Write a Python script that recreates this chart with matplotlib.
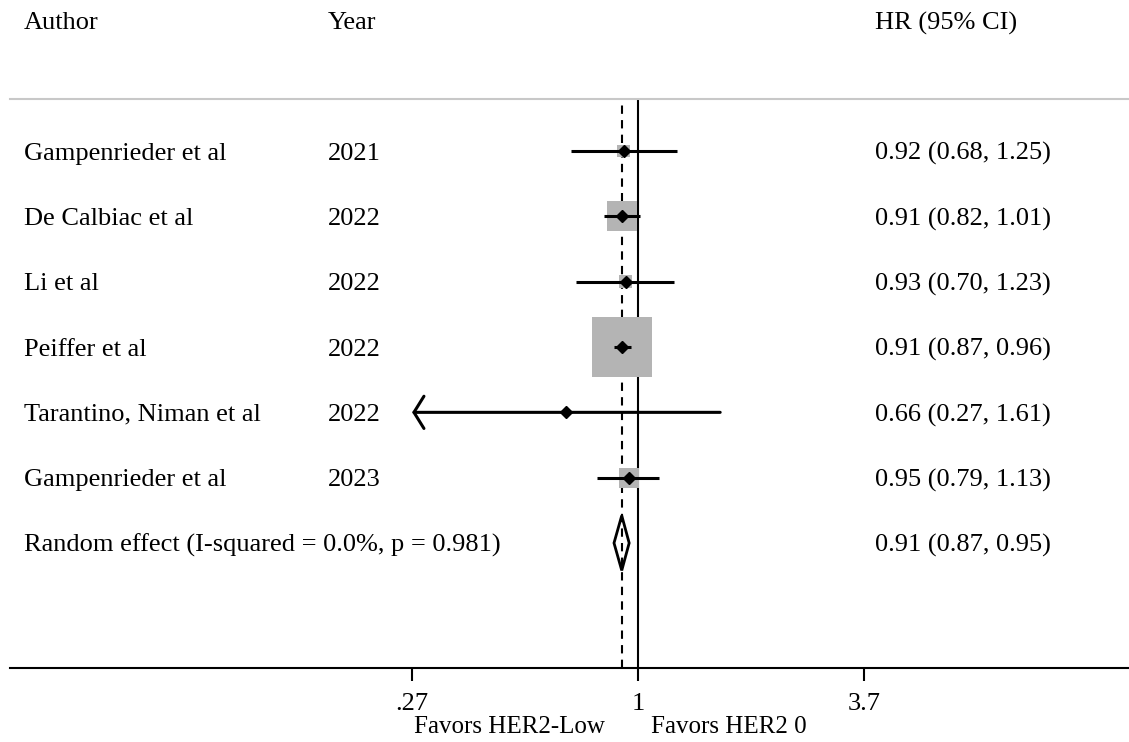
import matplotlib.pyplot as plt
import matplotlib.transforms as mtransforms
import numpy as np

plt.rcParams['font.family'] = ['Liberation Serif', 'DejaVu Serif']

# data
authors = ["Gampenrieder et al", "De Calbiac et al", "Li et al", "Peiffer et al",
           "Tarantino, Niman et al", "Gampenrieder et al"]
years = ["2021", "2022", "2022", "2022", "2022", "2023"]
hr = [0.92, 0.91, 0.93, 0.91, 0.66, 0.95]
lower = [0.68, 0.82, 0.70, 0.87, 0.27, 0.79]
upper = [1.25, 1.01, 1.23, 0.96, 1.61, 1.13]
weights = [3.0, 17.0, 3.5, 68.5, 0.3, 7.5]  # estimated % weight (box size)
pooled = [0.91, 0.87, 0.95]
pooled_label = "Random effect (I-squared = 0.0%, p = 0.981)"
xticks = [0.27, 1, 3.7]
xtick_labels = [".27", "1", "3.7"]

fs = 19
rows = np.arange(1, len(authors) + 1)
pooled_row = len(authors) + 1

fig = plt.figure(figsize=(11.29, 7.42), dpi=100)
ax = fig.add_axes([10 / 1129, 74 / 742, 1119 / 1129, 569 / 742])
ax.set_xscale('log')
ax.set_xlim(0.02624, 17.22)
ax.set_ylim(8.913, 0.204)

# reference lines
ax.axvline(1, color='black', lw=1.5, zorder=1)
ax.axvline(pooled[0], color='black', lw=1.5, ls=(0, (4, 3)), zorder=1)

# weight boxes
ax.scatter(hr, rows, s=np.array(weights) * 27.25, marker='s', color='#b4b4b4',
           linewidths=0, zorder=2)

# confidence intervals
for r, lo, hi, est in zip(rows, lower, upper, hr):
    if lo <= xticks[0]:
        ax.annotate('', xy=(xticks[0], r), xytext=(hi, r),
                    arrowprops=dict(arrowstyle='->,head_length=0.36,head_width=0.58',
                                    lw=2.2, color='black', shrinkA=0, shrinkB=0,
                                    mutation_scale=20),
                    zorder=3)
    else:
        ax.plot([lo, hi], [r, r], color='black', lw=2.2, solid_capstyle='butt', zorder=3)
ax.plot(hr, rows, 'D', color='black', ms=6, zorder=4)

# pooled diamond
h = 0.42
ax.fill([pooled[1], pooled[0], pooled[2], pooled[0]],
        [pooled_row, pooled_row - h, pooled_row, pooled_row + h],
        fill=False, ec='black', lw=2, zorder=4)

# text columns
tr = mtransforms.blended_transform_factory(fig.transFigure, ax.transData)
ax.text(24 / 1129, -1, "Author", transform=tr, fontsize=fs, va='center_baseline', clip_on=False)
ax.text(328 / 1129, -1, "Year", transform=tr, fontsize=fs, va='center_baseline', clip_on=False)
ax.text(875 / 1129, -1, "HR (95% CI)", transform=tr, fontsize=fs, va='center_baseline', clip_on=False)
for r, a, y, est, lo, hi in zip(rows, authors, years, hr, lower, upper):
    ax.text(24 / 1129, r, a, transform=tr, fontsize=fs, va='center_baseline')
    ax.text(328 / 1129, r, y, transform=tr, fontsize=fs, va='center_baseline')
    ax.text(875 / 1129, r, f"{est:.2f} ({lo:.2f}, {hi:.2f})", transform=tr,
            fontsize=fs, va='center_baseline')
ax.text(24 / 1129, pooled_row, pooled_label, transform=tr, fontsize=fs, va='center_baseline')
ax.text(875 / 1129, pooled_row,
        f"{pooled[0]:.2f} ({pooled[1]:.2f}, {pooled[2]:.2f})", transform=tr,
        fontsize=fs, va='center_baseline')

# axes styling
for s in ['left', 'right']:
    ax.spines[s].set_visible(False)
ax.spines['top'].set_color('#c8c8c8')
ax.spines['top'].set_linewidth(1.5)
ax.spines['bottom'].set_linewidth(1.5)
ax.set_yticks([])
ax.set_xticks(xticks)
ax.set_xticklabels(xtick_labels)
ax.xaxis.set_minor_locator(plt.NullLocator())
ax.tick_params(axis='x', length=9, width=1.5, pad=9, labelsize=fs)

# favors labels
btr = mtransforms.blended_transform_factory(ax.transData, ax.transAxes)
ax.annotate("Favors HER2-Low", xy=(1, 0), xycoords=btr, xytext=(-24, -41),
            textcoords='offset points', ha='right', va='center_baseline', fontsize=18)
ax.annotate("Favors HER2 0", xy=(1, 0), xycoords=btr, xytext=(9, -41),
            textcoords='offset points', ha='left', va='center_baseline', fontsize=18)

fig.savefig('out.png', dpi=100)
